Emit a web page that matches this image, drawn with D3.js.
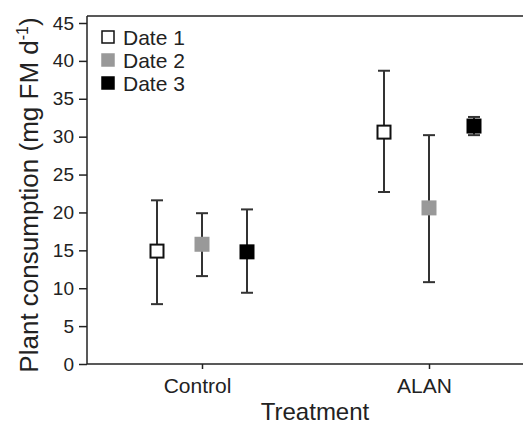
<!DOCTYPE html>
<html lang="en">
<head>
  <meta charset="UTF-8">
  <title>Plant consumption by treatment</title>
  <script src="https://d3js.org/d3.v7.min.js"></script>
  <style>
    body { margin: 0; background: #fff; }
    text { font-family: "Liberation Sans", Arial, sans-serif; fill: #222; }
  </style>
</head>
<body>
<div id="chart"></div>
<script>
// Data
const treatments = ["Control", "ALAN"];
const dates = ["Date 1", "Date 2", "Date 3"];
const means = [[14.9, 15.8, 14.8], [30.6, 20.6, 31.4]];
const lower = [[7.9, 11.6, 9.4], [22.7, 10.8, 30.2]];
const upper = [[21.6, 19.9, 20.4], [38.7, 30.2, 32.6]];
const yTicks = [0, 5, 10, 15, 20, 25, 30, 35, 40, 45];

const width = 523, height = 425;
const plotLeft = 87, plotTop = 16, plotBottom = 364, plotRight = 523;

const svg = d3.select("#chart").append("svg")
  .attr("width", width)
  .attr("height", height);

const y = d3.scaleLinear().domain([0, 45]).range([plotBottom, 23]);
const x = d3.scalePoint().domain(treatments).range([202, 429]);
const offset = d3.scalePoint().domain(dates).range([-45, 45]);

const fills = { "Date 1": "#fff", "Date 2": "#999", "Date 3": "#000" };
const strokes = { "Date 1": "#111", "Date 2": "#999", "Date 3": "#000" };

// Axes
const yAxis = svg.append("g")
  .attr("transform", `translate(${plotLeft},0)`)
  .call(d3.axisLeft(y).tickValues(yTicks).tickSize(8).tickSizeOuter(0));
yAxis.select(".domain").remove();
yAxis.selectAll(".tick line").attr("stroke", "#222").attr("stroke-width", 1.5);
yAxis.selectAll(".tick text").attr("font-size", 19).attr("x", -13)
  .style("font-family", "Liberation Sans, Arial, sans-serif").attr("fill", "#222");

const xAxis = svg.append("g")
  .attr("transform", `translate(0,${plotBottom})`)
  .call(d3.axisBottom(x).tickSize(5).tickSizeOuter(0));
xAxis.select(".domain").remove();
xAxis.selectAll(".tick line").attr("stroke", "#222").attr("stroke-width", 1.5);
xAxis.selectAll(".tick text").attr("font-size", 21).attr("y", 29).attr("dy", 0).attr("dx", -5)
  .style("font-family", "Liberation Sans, Arial, sans-serif").attr("fill", "#222");

// frame lines
svg.append("line").attr("x1", plotLeft).attr("x2", plotLeft).attr("y1", plotTop).attr("y2", plotBottom)
  .attr("stroke", "#222").attr("stroke-width", 1.5);
svg.append("line").attr("x1", plotLeft).attr("x2", plotRight).attr("y1", plotBottom).attr("y2", plotBottom)
  .attr("stroke", "#222").attr("stroke-width", 1.5);
svg.append("line").attr("x1", plotLeft).attr("x2", plotRight).attr("y1", plotTop).attr("y2", plotTop)
  .attr("stroke", "#222").attr("stroke-width", 1.5);

// Points with error bars
const points = [];
treatments.forEach((t, i) => dates.forEach((d, j) => {
  points.push({ t, d, m: means[i][j], lo: lower[i][j], hi: upper[i][j] });
}));

const g = svg.append("g").selectAll("g").data(points).join("g")
  .attr("transform", p => `translate(${x(p.t) + offset(p.d)},0)`);

g.append("line").attr("y1", p => y(p.lo)).attr("y2", p => y(p.hi))
  .attr("stroke", "#333").attr("stroke-width", 2);
g.append("line").attr("x1", -6).attr("x2", 6).attr("y1", p => y(p.hi)).attr("y2", p => y(p.hi))
  .attr("stroke", "#333").attr("stroke-width", 2);
g.append("line").attr("x1", -6).attr("x2", 6).attr("y1", p => y(p.lo)).attr("y2", p => y(p.lo))
  .attr("stroke", "#333").attr("stroke-width", 2);
g.append("rect")
  .attr("x", -6.5).attr("width", 13).attr("height", 13)
  .attr("y", p => y(p.m) - 6.5)
  .attr("fill", p => fills[p.d])
  .attr("stroke", p => strokes[p.d])
  .attr("stroke-width", 2);

// Legend
const legend = svg.append("g").selectAll("g").data(dates).join("g")
  .attr("transform", (d, i) => `translate(102,${37 + i * 23})`);
legend.append("rect").attr("x", 0).attr("y", -6).attr("width", 12).attr("height", 12)
  .attr("fill", d => fills[d]).attr("stroke", d => strokes[d]).attr("stroke-width", 1.5);
legend.append("text").attr("x", 21).attr("dy", "0.36em").attr("font-size", 21).text(d => d);

// Axis titles
svg.append("text")
  .attr("x", 315).attr("y", 420)
  .attr("text-anchor", "middle").attr("font-size", 24)
  .text("Treatment");

const yl = svg.append("text")
  .attr("transform", "translate(38,195) rotate(-90)")
  .attr("text-anchor", "middle").attr("font-size", 26);
yl.append("tspan").text("Plant consumption (mg FM d");
yl.append("tspan").attr("font-size", 16).attr("dy", -10).text("-1");
yl.append("tspan").attr("dy", 10).text(")");
</script>
</body>
</html>
